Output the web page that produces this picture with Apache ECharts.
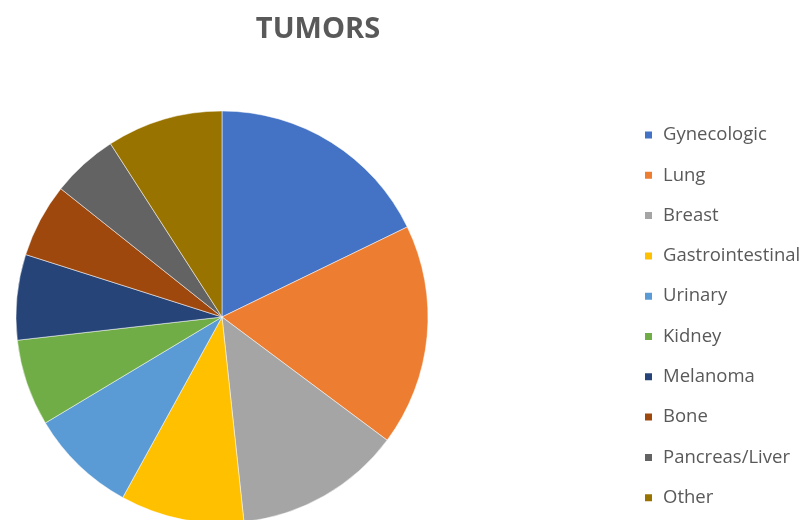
<!DOCTYPE html>
<html>
<head>
<meta charset="utf-8">
<script src="https://cdn.jsdelivr.net/npm/echarts@6/dist/echarts.min.js"></script>
<style>html,body{margin:0;padding:0;background:#fff}#c{width:803px;height:520px}</style>
</head>
<body>
<div id="c"></div>
<script>
const categories = ["Gynecologic","Lung","Breast","Gastrointestinal","Urinary","Kidney","Melanoma","Bone","Pancreas/Liver","Other"];
const values = [17.8, 17.4, 13.1, 9.7, 8.4, 6.8, 6.7, 5.8, 5.2, 9.1];
const colors = ["#4472C4","#ED7D31","#A5A5A5","#FFC000","#5B9BD5","#70AD47","#264478","#9E480E","#636363","#997300"];
const title = "TUMORS";

const chart = echarts.init(document.getElementById('c'), null, {renderer:'canvas'});
chart.setOption({
  animation:false,
  color: colors,
  title: {
    text: title, left: 318, top: 15, textAlign: 'center', padding: 0,
    textStyle: {fontFamily:'Open Sans', fontWeight:'bold', fontSize:29, color:'#595959'}
  },
  legend: {
    orient:'vertical', left: 643, top: 125, padding: 0,
    itemWidth: 9, itemHeight: 9, itemGap: 20.3,
    icon: 'rect',
    textStyle: {fontFamily:'Open Sans', fontSize:18.5, color:'#595959', lineHeight:20, padding:[0,0,0,5]},
    data: categories
  },
  series: [{
    type:'pie', center:[222, 317], radius: 206, startAngle: 90, clockwise: true,
    label:{show:false}, labelLine:{show:false},
    itemStyle:{borderColor:'#ffffff', borderWidth:0.5},
    emphasis:{disabled:true},
    data: categories.map((n,i)=>({name:n, value:values[i]}))
  }]
});
</script>
</body>
</html>
